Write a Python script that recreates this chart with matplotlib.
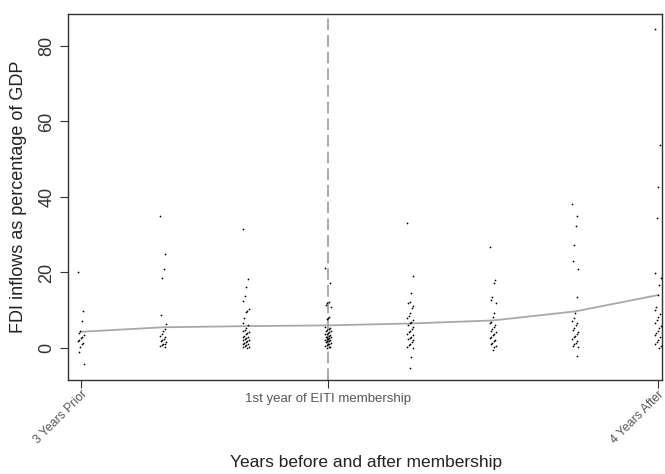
import numpy as np
import matplotlib
matplotlib.use("Agg")
import matplotlib.pyplot as plt

plt.rcParams['font.family'] = ['Liberation Sans', 'DejaVu Sans']

# years relative to membership
years = [-3, -2, -1, 0, 1, 2, 3, 4]
tick_labels = {-3: "3 Years Prior", 0: "1st year of EITI membership", 4: "4 Years After"}

# FDI inflows (% of GDP) per year
fdi_m3 = [20, 9.7, 7.2, 4.5, 4.0, 3.4, 3.0, 2.6, 2.2, 1.8, 1.4, 1.0, 0.2, -1.0, -4.2]
fdi_m2 = [35, 25, 21, 18.6, 8.7, 6.3, 5.0, 4.5, 3.8, 3.2, 2.8, 2.4, 2.0, 1.8,
          1.5, 1.2, 1.0, 0.7, 0.5, 0.3]
fdi_m1 = [31.5, 18.2, 16.1, 13.9, 12.5, 10.3, 9.8, 9.5, 8.0, 6.6, 6.0, 5.4, 4.8,
          4.5, 4.2, 3.9, 3.6, 3.3, 3.0, 2.8, 2.6, 2.4, 2.2, 2.0, 1.8, 1.6, 1.4,
          1.2, 1.0, 0.8, 0.6, 0.4, 0.2, 0.0]
fdi_0 = [21.1, 17.1, 12.3, 11.8, 11.3, 10.9, 8.3, 7.9, 7.6, 5.6, 5.3, 5.0, 4.8,
         4.6, 4.4, 4.2, 4.0, 3.8, 3.6, 3.4, 3.2, 3.0, 2.9, 2.8, 2.6, 2.5, 2.4,
         2.2, 2.0, 1.9, 1.8, 1.6, 1.4, 1.2, 1.0, 0.8, 0.6, 0.4, 0.2, 0.0]
fdi_1 = [33, 19, 14.6, 12.3, 11.8, 11.2, 10.5, 9.3, 8.6, 8.0, 7.4, 7.0, 6.6,
         6.0, 5.5, 5.0, 4.6, 4.2, 3.8, 3.4, 3.0, 2.7, 2.4, 2.0, 1.6, 1.2, 0.8,
         0.4, 0.0, -2.3, -5.4]
fdi_2 = [26.8, 18.0, 17.1, 13.6, 12.6, 11.8, 9.3, 8.3, 7.0, 6.5, 6.0, 5.5, 5.0,
         4.6, 4.2, 3.8, 3.4, 3.0, 2.6, 2.2, 1.8, 1.4, 1.0, 0.6, 0.2, -0.5]
fdi_3 = [38.1, 35, 32.4, 27.3, 23.1, 20.8, 13.4, 9.2, 8.0, 7.2, 6.6, 6.0, 5.4,
         4.8, 4.3, 3.8, 3.3, 2.8, 2.3, 1.8, 1.4, 1.0, 0.6, 0.2, -2.1]
fdi_4 = [84.5, 53.8, 42.7, 34.4, 19.8, 18.5, 16.7, 14.0, 10.9, 10.0, 9.0, 8.2,
         7.4, 6.6, 5.9, 5.2, 4.6, 4.0, 3.4, 2.8, 2.2, 1.6, 1.0, 0.5, 0.0]
groups = [fdi_m3, fdi_m2, fdi_m1, fdi_0, fdi_1, fdi_2, fdi_3, fdi_4]

# smoothed mean line
smooth = [4.3, 5.5, 5.8, 6.0, 6.5, 7.3, 9.7, 14.0]

fig, ax = plt.subplots(figsize=(6.65, 4.74), dpi=100)
fig.subplots_adjust(left=0.103, right=0.995, top=0.971, bottom=0.198)

for yr, vals in zip(years, groups):
    n = len(vals)
    # small deterministic horizontal jitter
    off = np.array([((i * 7) % 9 - 4) * 0.009 for i in range(n)])
    ax.scatter(yr + off, vals, s=1.6, color='black', linewidths=0, zorder=3)

ax.plot(years, smooth, color='#a8a8a8', lw=1.3, zorder=2)
ax.axvline(0, color='#9a9a9a', lw=1.2, ls=(0, (7, 3)), zorder=1)

ax.set_xlim(-3.15, 4.05)
ax.set_ylim(-8.5, 88.5)
ax.set_yticks([0, 20, 40, 60, 80])
ax.set_xticks(list(tick_labels.keys()))
ax.set_xticklabels([])

ax.tick_params(axis='y', labelsize=13, length=6, color='#333333',
               labelcolor='#333333', labelrotation=90)
for lab in ax.get_yticklabels():
    lab.set_va('center')
ax.tick_params(axis='x', length=6, color='#333333')

for xv, txt in tick_labels.items():
    if xv == 0:
        ax.text(xv, -0.035, txt, transform=ax.get_xaxis_transform(),
                ha='center', va='top', fontsize=9.5, color='#555555')
    else:
        ax.text(xv, -0.022, txt, transform=ax.get_xaxis_transform(),
                ha='right', va='top', rotation=45, rotation_mode='anchor',
                fontsize=8.8, color='#555555')

for sp in ax.spines.values():
    sp.set_color('#333333')
    sp.set_linewidth(1.0)

ax.set_ylabel("FDI inflows as percentage of GDP", fontsize=13, color='#222222',
              labelpad=8)
fig.text(0.551, 0.024, "Years before and after membership", fontsize=12.5,
         color='#222222', ha='center', va='center')

fig.savefig("out.png", dpi=100)
